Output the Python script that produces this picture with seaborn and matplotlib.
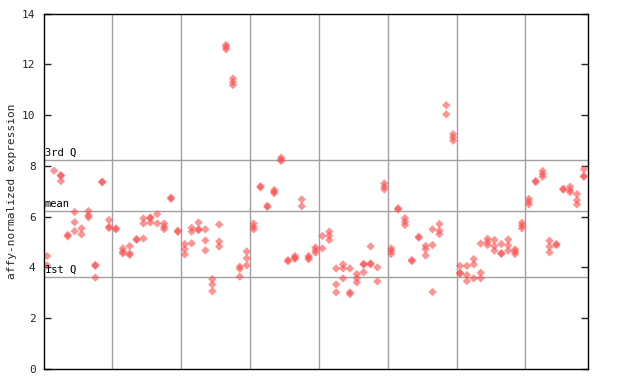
import matplotlib
matplotlib.use("Agg")
import matplotlib.pyplot as plt
import seaborn as sns
import pandas as pd

# expression values per sample (79 samples, a few replicates each)
sample_values = [
    [4.45, 4.08], [7.81], [7.61, 7.63, 7.40], [5.28, 5.22], [6.18, 5.78, 5.43],
    [5.54, 5.30], [6.22, 6.05, 5.97], [4.06, 4.10, 3.60], [7.35, 7.38], [5.87, 5.60, 5.55],
    [5.54, 5.50], [4.75, 4.55, 4.62], [4.84, 4.49, 4.55], [5.12, 5.08], [5.93, 5.73, 5.14],
    [5.94, 5.97, 5.77], [6.10, 5.73], [5.73, 5.51, 5.60], [6.70, 6.75], [5.45, 5.40],
    [4.92, 4.72, 4.51], [5.56, 5.41, 4.95], [5.77, 5.47, 5.50], [5.50, 5.06, 4.67], [3.54, 3.33, 3.06],
    [5.69, 5.02, 4.82], [12.76, 12.59, 12.68], [11.44, 11.18, 11.30], [4.03, 3.95, 3.64], [4.63, 4.36, 4.08],
    [5.73, 5.60, 5.50], [7.20, 7.15], [6.43, 6.38], [7.05, 6.98, 6.92], [8.32, 8.19, 8.25],
    [4.29, 4.24], [4.45, 4.34, 4.38], [6.68, 6.41], [4.45, 4.32, 4.38], [4.79, 4.58, 4.68],
    [5.24, 4.75], [5.41, 5.25, 5.08], [3.96, 3.33, 3.02], [4.12, 3.96, 3.57], [3.96, 3.02, 2.95],
    [3.74, 3.58, 3.41], [4.11, 4.14, 3.81], [4.83, 4.16, 4.12], [4.00, 3.45], [7.31, 7.07, 7.18],
    [4.75, 4.53, 4.65], [6.33, 6.28], [5.94, 5.67, 5.80], [4.29, 4.25], [5.21, 5.17],
    [4.85, 4.72, 4.47], [5.50, 4.88, 3.03], [5.71, 5.31, 5.45], [10.39, 10.03], [9.25, 8.99, 9.12],
    [4.06, 3.79, 3.76], [4.06, 3.70, 3.46], [4.33, 4.12, 3.57], [4.94, 3.79, 3.57], [5.13, 4.88, 5.00],
    [5.08, 4.84, 4.66], [4.92, 4.53, 4.56], [5.10, 4.87, 4.66], [4.71, 4.53, 4.62], [5.76, 5.54, 5.65],
    [6.70, 6.48, 6.59], [7.41, 7.36], [7.80, 7.57, 7.68], [5.05, 4.82, 4.59], [4.92, 4.88],
    [7.10, 7.06], [7.18, 6.96, 7.05], [6.89, 6.65, 6.48], [7.86, 7.57, 7.60],
]
group_bounds = [9.5, 19.5, 29.5, 39.5, 49.5, 59.5, 69.5]
ref_lines = {"3rd Q": 8.23, "mean": 6.22, "1st Q": 3.62}
y_ticks = [0, 2, 4, 6, 8, 10, 12, 14]

rows = []
for i, vals in enumerate(sample_values):
    for v in vals:
        rows.append({"sample": i, "value": v})
df = pd.DataFrame(rows)

sns.set_style("white")
plt.rcParams["font.family"] = ["DejaVu Sans Mono"]

fig = plt.figure(figsize=(6.4, 3.84), dpi=100)
ax = fig.add_axes([44 / 640, 15 / 384, 544 / 640, 355.5 / 384])

for b in group_bounds:
    ax.axvline(b, color="#a0a0a0", lw=1, zorder=1)
for name, v in ref_lines.items():
    ax.axhline(v, color="#a0a0a0", lw=1, zorder=1)
    ax.text(-0.35, v + 0.1, name, fontsize=7.5, ha="left", va="bottom", color="black", zorder=3)

sns.scatterplot(data=df, x="sample", y="value", marker="D", s=18, color="#ff4c4c",
                alpha=0.6, edgecolor="none", linewidth=0, ax=ax, zorder=2)

ax.set_xlim(-0.45, 78.6)
ax.set_ylim(0, 14)
ax.set_yticks(y_ticks)
ax.set_yticklabels([str(t) for t in y_ticks], fontsize=8)
ax.set_xticks([])
ax.set_xlabel("")
ax.set_ylabel("affy-normalized expression", fontsize=8, labelpad=4)
ax.tick_params(axis="y", direction="in", length=5, width=1, left=True, right=True, pad=6)
for sp in ax.spines.values():
    sp.set_color("black")
    sp.set_linewidth(1)

fig.savefig("out.png", dpi=100)
